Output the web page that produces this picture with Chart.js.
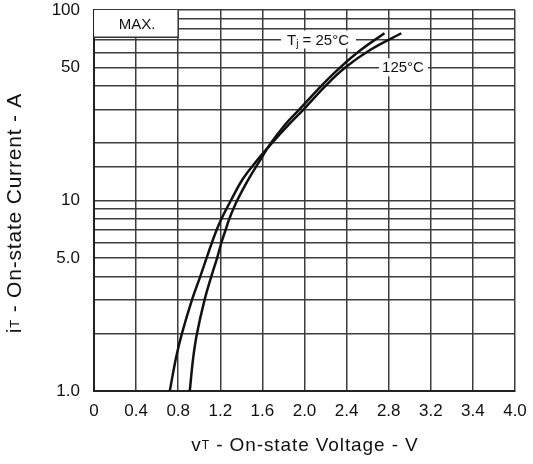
<!DOCTYPE html>
<html>
<head>
<meta charset="utf-8">
<script src="https://cdn.jsdelivr.net/npm/chart.js@4.4.1/dist/chart.umd.min.js"></script>
<style>
  html, body { margin: 0; padding: 0; background: #fff; }
  #wrap { width: 533px; height: 464px; position: relative; }
</style>
</head>
<body>
<div id="wrap"><canvas id="myChart"></canvas></div>
<script>
// on-state characteristic
const currents = [1, 1.5, 2, 3, 4, 5, 6, 7, 8, 10, 13, 16, 20, 25, 30, 40, 50, 62, 75.5];
const volts25 = [0.91, 0.943, 0.978, 1.05, 1.115, 1.17, 1.21, 1.25, 1.285, 1.36, 1.47, 1.57, 1.68, 1.815, 1.95, 2.16, 2.34, 2.54, 2.76];
const volts125 = [0.72, 0.78, 0.835, 0.93, 1.01, 1.07, 1.12, 1.165, 1.21, 1.30, 1.415, 1.54, 1.69, 1.85, 1.99, 2.20, 2.39, 2.63, 2.92];

const xTickLabels = ['0', '0.4', '0.8', '1.2', '1.6', '2.0', '2.4', '2.8', '3.2', '3.4', '4.0'];
const yTickLabels = {1: '1.0', 5: '5.0', 10: '10', 50: '50', 100: '100'};

const FONT = '"Liberation Sans", Arial, Helvetica, sans-serif';

function toPoints(vs) {
    return vs.map((v, i) => ({x: v, y: currents[i]}));
}

// centred text made of pieces: [text, size, dy]
function drawParts(ctx, parts, x, y, spacing) {
    ctx.letterSpacing = (spacing || 0) + 'px';
    let total = 0;
    parts.forEach(p => { ctx.font = p[1] + 'px ' + FONT; total += ctx.measureText(p[0]).width; });
    let cx = x - total / 2;
    parts.forEach(p => {
        ctx.font = p[1] + 'px ' + FONT;
        ctx.fillText(p[0], cx, y + (p[2] || 0));
        cx += ctx.measureText(p[0]).width;
    });
    ctx.letterSpacing = '0px';
}

const labelsPlugin = {
    id: 'labels',
    beforeDatasetsDraw(chart) {
        const ctx = chart.ctx;
        const xs = chart.scales.x, ys = chart.scales.y;
        ctx.save();
        ctx.textBaseline = 'middle';
        ctx.textAlign = 'left';

        // MAX. box in the corner
        const bx0 = xs.getPixelForValue(0), bx1 = xs.getPixelForValue(0.8);
        const by0 = ys.getPixelForValue(100), by1 = ys.getPixelForValue(72);
        ctx.fillStyle = '#fff';
        ctx.fillRect(bx0, by0, bx1 - bx0, by1 - by0);
        ctx.strokeStyle = '#333';
        ctx.lineWidth = 1.5;
        ctx.beginPath();
        ctx.moveTo(bx0, by1); ctx.lineTo(bx1, by1); ctx.lineTo(bx1, by0);
        ctx.stroke();
        ctx.fillStyle = '#111';
        drawParts(ctx, [['MAX.', 15]], (bx0 + bx1) / 2 + 1, (by0 + by1) / 2 + 1);

        // Tj = 25°C
        let cy = ys.getPixelForValue(70);
        ctx.fillStyle = '#fff';
        ctx.fillRect(281, cy - 9, 75, 18);
        ctx.fillStyle = '#111';
        drawParts(ctx, [['T', 15], ['j', 10, 4], [' = 25°C', 15]], 318, cy + 1);

        // 125°C
        cy = ys.getPixelForValue(50);
        ctx.fillStyle = '#fff';
        ctx.fillRect(379, cy - 9, 49, 18);
        ctx.fillStyle = '#111';
        drawParts(ctx, [['125°C', 15]], 403, cy + 1);
        ctx.restore();
    },
    afterDraw(chart) {
        const ctx = chart.ctx;
        ctx.save();
        ctx.fillStyle = '#111';
        ctx.textBaseline = 'middle';
        drawParts(ctx, [['v', 19], ['T', 12], [' - On-state Voltage - V', 19]], 305, 446, 0.9);
        ctx.translate(15, 213);
        ctx.rotate(-Math.PI / 2);
        drawParts(ctx, [['i', 21], ['T', 13], [' - On-state Current - A', 21]], 0, 0, 0.8);
        ctx.restore();
    }
};

new Chart(document.getElementById('myChart'), {
    type: 'scatter',
    data: {
        datasets: [{
            label: '25°C',
            data: toPoints(volts25),
            showLine: true,
            borderColor: '#111',
            borderWidth: 2.5,
            pointRadius: 0,
            tension: 0.4,
        }, {
            label: '125°C',
            data: toPoints(volts125),
            showLine: true,
            borderColor: '#111',
            borderWidth: 2.5,
            pointRadius: 0,
            tension: 0.4,
        }]
    },
    options: {
        responsive: true,
        maintainAspectRatio: false,
        animation: false,
        layout: { padding: { top: 10, right: 18, left: 0, bottom: 0 } },
        plugins: { legend: { display: false }, tooltip: { enabled: false } },
        scales: {
            x: {
                type: 'linear',
                min: 0, max: 4,
                ticks: {
                    stepSize: 0.4,
                    color: '#111',
                    font: { size: 17, family: FONT },
                    padding: 10,
                    maxRotation: 0,
                    autoSkip: false,
                    callback: (v, i) => xTickLabels[i],
                },
                grid: { color: '#3c3c3c', lineWidth: 1.5, drawTicks: false },
                border: { color: '#222', width: 2 },
                afterFit(scale) {
                    scale.height = 73;
                    scale.paddingLeft = 0; scale.paddingRight = 0;
                },
            },
            y: {
                type: 'logarithmic',
                min: 1, max: 100,
                ticks: {
                    color: '#111',
                    font: { size: 17, family: FONT },
                    padding: 14,
                    autoSkip: false,
                    callback: v => yTickLabels[v] || '',
                },
                grid: { color: '#3c3c3c', lineWidth: 1.5, drawTicks: false },
                border: { color: '#222', width: 2 },
                afterFit(scale) {
                    scale.width = 94;
                    scale.paddingTop = 0; scale.paddingBottom = 0;
                },
            }
        }
    },
    plugins: [labelsPlugin]
});
</script>
</body>
</html>
